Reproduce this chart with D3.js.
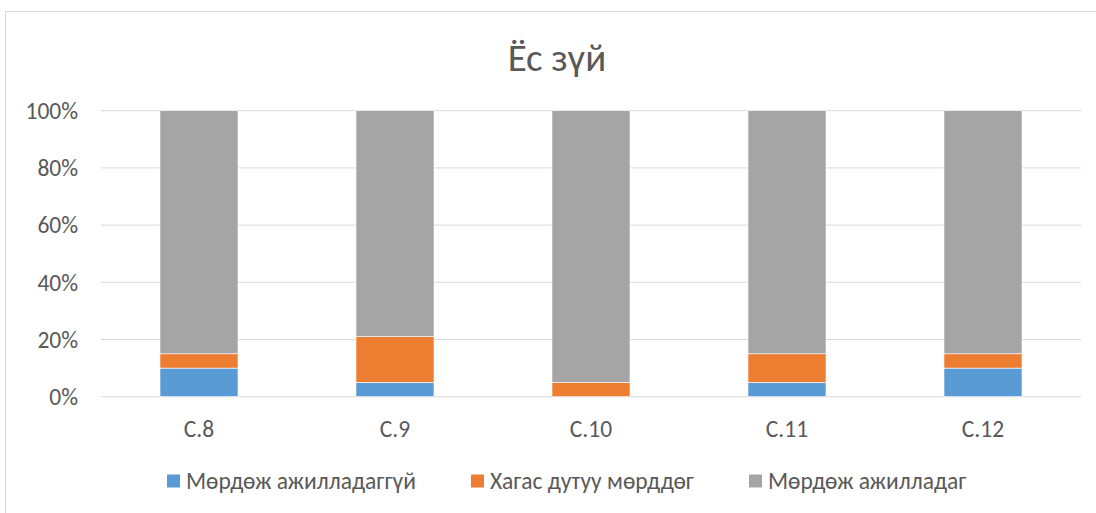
<!DOCTYPE html>
<html>
<head>
<meta charset="utf-8">
<script src="https://cdn.jsdelivr.net/npm/d3@7"></script>
<style>
  body { margin: 0; background: #fff; }
  svg text { font-family: Calibri, Carlito, "Open Sans", "Noto Sans", sans-serif; fill: #595959; }
</style>
</head>
<body>
<div id="chart"></div>
<script>
// Data (percent of each column)
const categories = ['C.8', 'C.9', 'C.10', 'C.11', 'C.12'];
const seriesNames = ['Мөрдөж ажилладаггүй', 'Хагас дутуу мөрддөг', 'Мөрдөж ажилладаг'];
const notFollowing = [10, 5, 0, 5, 10];
const partly = [5, 16, 5, 10, 5];
const following = [85, 79, 95, 85, 85];
const yTicks = [0, 20, 40, 60, 80, 100];
const colors = ['#5b9bd5', '#ed7d31', '#a5a5a5'];

const W = 1096, H = 513;
const svg = d3.select('#chart').append('svg').attr('width', W).attr('height', H);

// chart frame
svg.append('rect').attr('x', 5.5).attr('y', 11.5).attr('width', W).attr('height', H)
  .attr('fill', '#fff').attr('stroke', '#d9d9d9');

const x = d3.scaleBand().domain(categories).range([101, 1081]).paddingInner(0.602).paddingOuter(0.301);
const y = d3.scaleLinear().domain([0, 100]).range([396.7, 110.7]);

// gridlines
svg.append('g').selectAll('line').data(yTicks).enter().append('line')
  .attr('x1', 101).attr('x2', 1081)
  .attr('y1', d => y(d)).attr('y2', d => y(d))
  .attr('stroke', '#d9d9d9').attr('stroke-width', 1);

// y tick labels
svg.append('g').selectAll('text').data(yTicks).enter().append('text')
  .attr('x', 78).attr('y', d => y(d)).attr('dy', '0.35em')
  .attr('text-anchor', 'end').attr('font-size', '23.5px')
  .text(d => d + '%');

// stacked data
const rows = categories.map((c, i) => ({ cat: c, s0: notFollowing[i], s1: partly[i], s2: following[i] }));
const stack = d3.stack().keys(['s0', 's1', 's2'])(rows);

svg.append('g').selectAll('g').data(stack).enter().append('g')
  .attr('fill', (d, i) => colors[i])
  .selectAll('rect').data(d => d).enter().append('rect')
  .attr('x', d => x(d.data.cat))
  .attr('width', x.bandwidth())
  .attr('y', d => y(d[1]))
  .attr('height', d => y(d[0]) - y(d[1]))
  .attr('stroke', '#fff').attr('stroke-width', 0.6);

// x labels
svg.append('g').selectAll('text').data(categories).enter().append('text')
  .attr('x', d => x(d) + x.bandwidth() / 2).attr('y', 429).attr('dy', '0.35em')
  .attr('text-anchor', 'middle').attr('font-size', '23.5px')
  .text(d => d);

// title
svg.append('text').attr('x', 557).attr('y', 57).attr('dy', '0.35em')
  .attr('text-anchor', 'middle').attr('font-size', '39px')
  .text('Ёс зүй');

// legend
const legendX = [167, 471, 749];
const lg = svg.append('g').selectAll('g').data(seriesNames).enter().append('g')
  .attr('transform', (d, i) => `translate(${legendX[i]},481)`);
lg.append('rect').attr('x', 0).attr('y', -6.5).attr('width', 13).attr('height', 13)
  .attr('fill', (d, i) => colors[i]);
lg.append('text').attr('x', 19).attr('y', 0).attr('dy', '0.35em')
  .attr('font-size', '23.5px').text(d => d);
</script>
</body>
</html>
